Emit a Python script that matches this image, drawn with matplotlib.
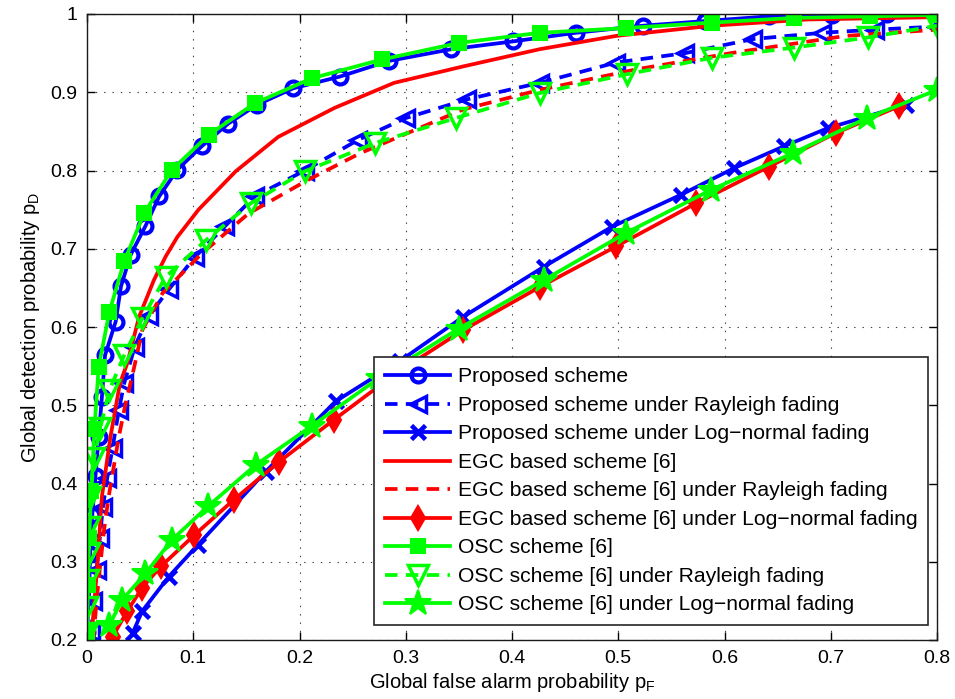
import matplotlib
matplotlib.use("Agg")
import matplotlib.pyplot as plt

plt.rcParams['font.family'] = ['Liberation Sans', 'DejaVu Sans']
plt.rcParams['lines.scale_dashes'] = False
plt.rcParams['mathtext.fontset'] = 'custom'
plt.rcParams['mathtext.rm'] = 'Liberation Sans'

# ---- data ----
prop_x = [0.0, 0.002, 0.003, 0.005, 0.008, 0.011, 0.014, 0.017, 0.027, 0.032, 0.041, 0.055, 0.068,
          0.085, 0.108, 0.133, 0.160, 0.194, 0.238, 0.284, 0.343, 0.401, 0.460, 0.523, 0.582,
          0.642, 0.701, 0.753, 0.8]
prop_y = [0.21, 0.26, 0.31, 0.36, 0.41, 0.46, 0.51, 0.564, 0.607, 0.652, 0.692, 0.729, 0.767,
          0.801, 0.831, 0.860, 0.884, 0.905, 0.920, 0.940, 0.955, 0.965, 0.976, 0.985, 0.991,
          0.997, 0.999, 1.0, 1.0]

prop_ray_x = [0.004, 0.006, 0.009, 0.012, 0.015, 0.019, 0.024, 0.030, 0.035, 0.045, 0.058, 0.077,
              0.102, 0.130, 0.158, 0.205, 0.255, 0.300, 0.358, 0.426, 0.498, 0.563, 0.627, 0.692,
              0.742, 0.8]
prop_ray_y = [0.21, 0.25, 0.29, 0.33, 0.37, 0.407, 0.445, 0.494, 0.528, 0.575, 0.614, 0.648,
              0.690, 0.729, 0.767, 0.800, 0.839, 0.867, 0.891, 0.912, 0.938, 0.950, 0.968, 0.976,
              0.980, 0.984]

prop_ln_x = [0.043, 0.052, 0.077, 0.104, 0.168, 0.234, 0.295, 0.354, 0.430, 0.494, 0.559, 0.609,
             0.656, 0.697, 0.771]
prop_ln_y = [0.209, 0.237, 0.281, 0.321, 0.415, 0.505, 0.557, 0.613, 0.677, 0.728, 0.769, 0.803,
             0.831, 0.854, 0.884]

egc_x = [0.004, 0.007, 0.010, 0.014, 0.022, 0.031, 0.038, 0.049, 0.063, 0.074, 0.085, 0.105,
         0.140, 0.180, 0.233, 0.289, 0.354, 0.426, 0.498, 0.588, 0.678, 0.8]
egc_y = [0.20, 0.25, 0.30, 0.383, 0.459, 0.528, 0.554, 0.613, 0.660, 0.690, 0.715, 0.750,
         0.799, 0.843, 0.880, 0.912, 0.933, 0.955, 0.972, 0.985, 0.993, 0.996]

egc_ray_x = [0.006, 0.009, 0.012, 0.016, 0.020, 0.025, 0.030, 0.036, 0.043, 0.052, 0.071, 0.108,
             0.152, 0.208, 0.257, 0.354, 0.426, 0.516, 0.606, 0.714, 0.8]
egc_ray_y = [0.20, 0.25, 0.29, 0.34, 0.38, 0.42, 0.46, 0.50, 0.54, 0.596, 0.643, 0.694,
             0.745, 0.788, 0.822, 0.878, 0.903, 0.929, 0.950, 0.972, 0.980]

egc_ln_x = [0.024, 0.038, 0.052, 0.0695, 0.101, 0.138, 0.181, 0.232, 0.290, 0.354, 0.426, 0.498,
            0.573, 0.642, 0.705, 0.764]
egc_ln_y = [0.204, 0.237, 0.267, 0.294, 0.334, 0.379, 0.428, 0.481, 0.540, 0.596, 0.651, 0.703,
            0.758, 0.805, 0.848, 0.882]

osc_x = [0.0, 0.001, 0.002, 0.004, 0.007, 0.011, 0.021, 0.035, 0.054, 0.080, 0.115, 0.158, 0.212,
         0.278, 0.350, 0.426, 0.507, 0.588, 0.665, 0.737, 0.8]
osc_y = [0.21, 0.27, 0.33, 0.39, 0.47, 0.549, 0.619, 0.684, 0.746, 0.801, 0.846, 0.886, 0.918,
         0.942, 0.963, 0.976, 0.982, 0.989, 0.995, 0.997, 0.999]

osc_ray_x = [0.0, 0.0, 0.0005, 0.002, 0.002, 0.003, 0.007, 0.0125, 0.021, 0.035, 0.052, 0.074,
             0.112, 0.154, 0.205, 0.271, 0.347, 0.426, 0.508, 0.588, 0.665, 0.735, 0.8]
osc_ray_y = [0.209, 0.242, 0.277, 0.311, 0.344, 0.383, 0.433, 0.471, 0.519, 0.564, 0.611, 0.664,
             0.711, 0.758, 0.799, 0.835, 0.867, 0.899, 0.923, 0.944, 0.957, 0.970, 0.985]

osc_ln_x = [0.021, 0.033, 0.055, 0.080, 0.114, 0.159, 0.212, 0.275, 0.350, 0.430, 0.507, 0.587,
            0.664, 0.734, 0.8]
osc_ln_y = [0.219, 0.251, 0.285, 0.328, 0.371, 0.424, 0.474, 0.535, 0.598, 0.660, 0.720, 0.775,
            0.822, 0.867, 0.903]

labels = ['Proposed scheme',
          'Proposed scheme under Rayleigh fading',
          'Proposed scheme under Log\u2212normal fading',
          'EGC based scheme [6]',
          'EGC based scheme [6] under Rayleigh fading',
          'EGC based scheme [6] under Log\u2212normal fading',
          'OSC scheme [6]',
          'OSC scheme [6] under Rayleigh fading',
          'OSC scheme [6] under Log\u2212normal fading']

x_ticks = [0, 0.1, 0.2, 0.3, 0.4, 0.5, 0.6, 0.7, 0.8]
x_ticklabels = ['0', '0.1', '0.2', '0.3', '0.4', '0.5', '0.6', '0.7', '0.8']
y_ticks = [0.2, 0.3, 0.4, 0.5, 0.6, 0.7, 0.8, 0.9, 1.0]
y_ticklabels = ['0.2', '0.3', '0.4', '0.5', '0.6', '0.7', '0.8', '0.9', '1']

# ---- plot ----
fig = plt.figure(figsize=(9.55, 6.99), dpi=100)
ax = fig.add_axes([87/955, 1-640/699, 850/955, 626/699])

B, R, G = (0, 0, 1), (1, 0, 0), (0, 1, 0)
lw = 2.7
ms = 10
mew = 2.5
dash = (9, 6)

ax.plot(prop_x, prop_y, color=B, lw=lw, marker='o', ms=ms, mfc='none', mew=mew + 0.5, label=labels[0])
ax.plot(prop_ray_x, prop_ray_y, color=B, lw=lw, ls='--', dashes=dash, marker='<', ms=ms + 1,
        mfc='none', mew=mew, label=labels[1])
ax.plot(prop_ln_x, prop_ln_y, color=B, lw=lw, marker='x', ms=ms, mew=mew + 0.8, label=labels[2])
ax.plot(egc_x, egc_y, color=R, lw=lw, label=labels[3])
ax.plot(egc_ray_x, egc_ray_y, color=R, lw=lw, ls='--', dashes=dash, label=labels[4])
ax.plot(egc_ln_x, egc_ln_y, color=R, lw=lw, marker='d', ms=ms + 2, mfc=R, mew=1.5, label=labels[5])
ax.plot(osc_x, osc_y, color=G, lw=lw, marker='s', ms=ms, mfc=G, mew=1.5, label=labels[6])
ax.plot(osc_ray_x, osc_ray_y, color=G, lw=lw, ls='--', dashes=dash, marker='v', ms=ms + 4,
        mfc='none', mew=mew, label=labels[7])
ax.plot(osc_ln_x, osc_ln_y, color=G, lw=lw, marker='*', ms=ms + 9, mfc=G, mew=1.5, label=labels[8])

ax.set_xlim(0, 0.8)
ax.set_ylim(0.2, 1.0)
ax.set_xticks(x_ticks)
ax.set_xticklabels(x_ticklabels)
ax.set_yticks(y_ticks)
ax.set_yticklabels(y_ticklabels)
ax.tick_params(direction='in', length=6, width=1, top=True, right=True, labelsize=14, pad=7)
ax.grid(True, ls=(0, (1, 5)), color='0.25', lw=0.8)
for s in ax.spines.values():
    s.set_linewidth(1)
    s.set_color('0.1')

ax.set_xlabel('Global false alarm probability p$_\\mathrm{F}$', fontsize=14.5, labelpad=3)
ax.set_ylabel('Global detection probability p$_\\mathrm{D}$', fontsize=14.5, labelpad=6)

leg = ax.legend(loc='lower right', bbox_to_anchor=(0.9894, 0.024), borderaxespad=0,
                fontsize=15.2, frameon=True, fancybox=False, framealpha=1,
                edgecolor='0.15', handlelength=3.1, handletextpad=0.35,
                labelspacing=0.45, borderpad=0.5, markerscale=1.0)
leg.get_frame().set_linewidth(1.2)

fig.savefig('out.png', dpi=100)
